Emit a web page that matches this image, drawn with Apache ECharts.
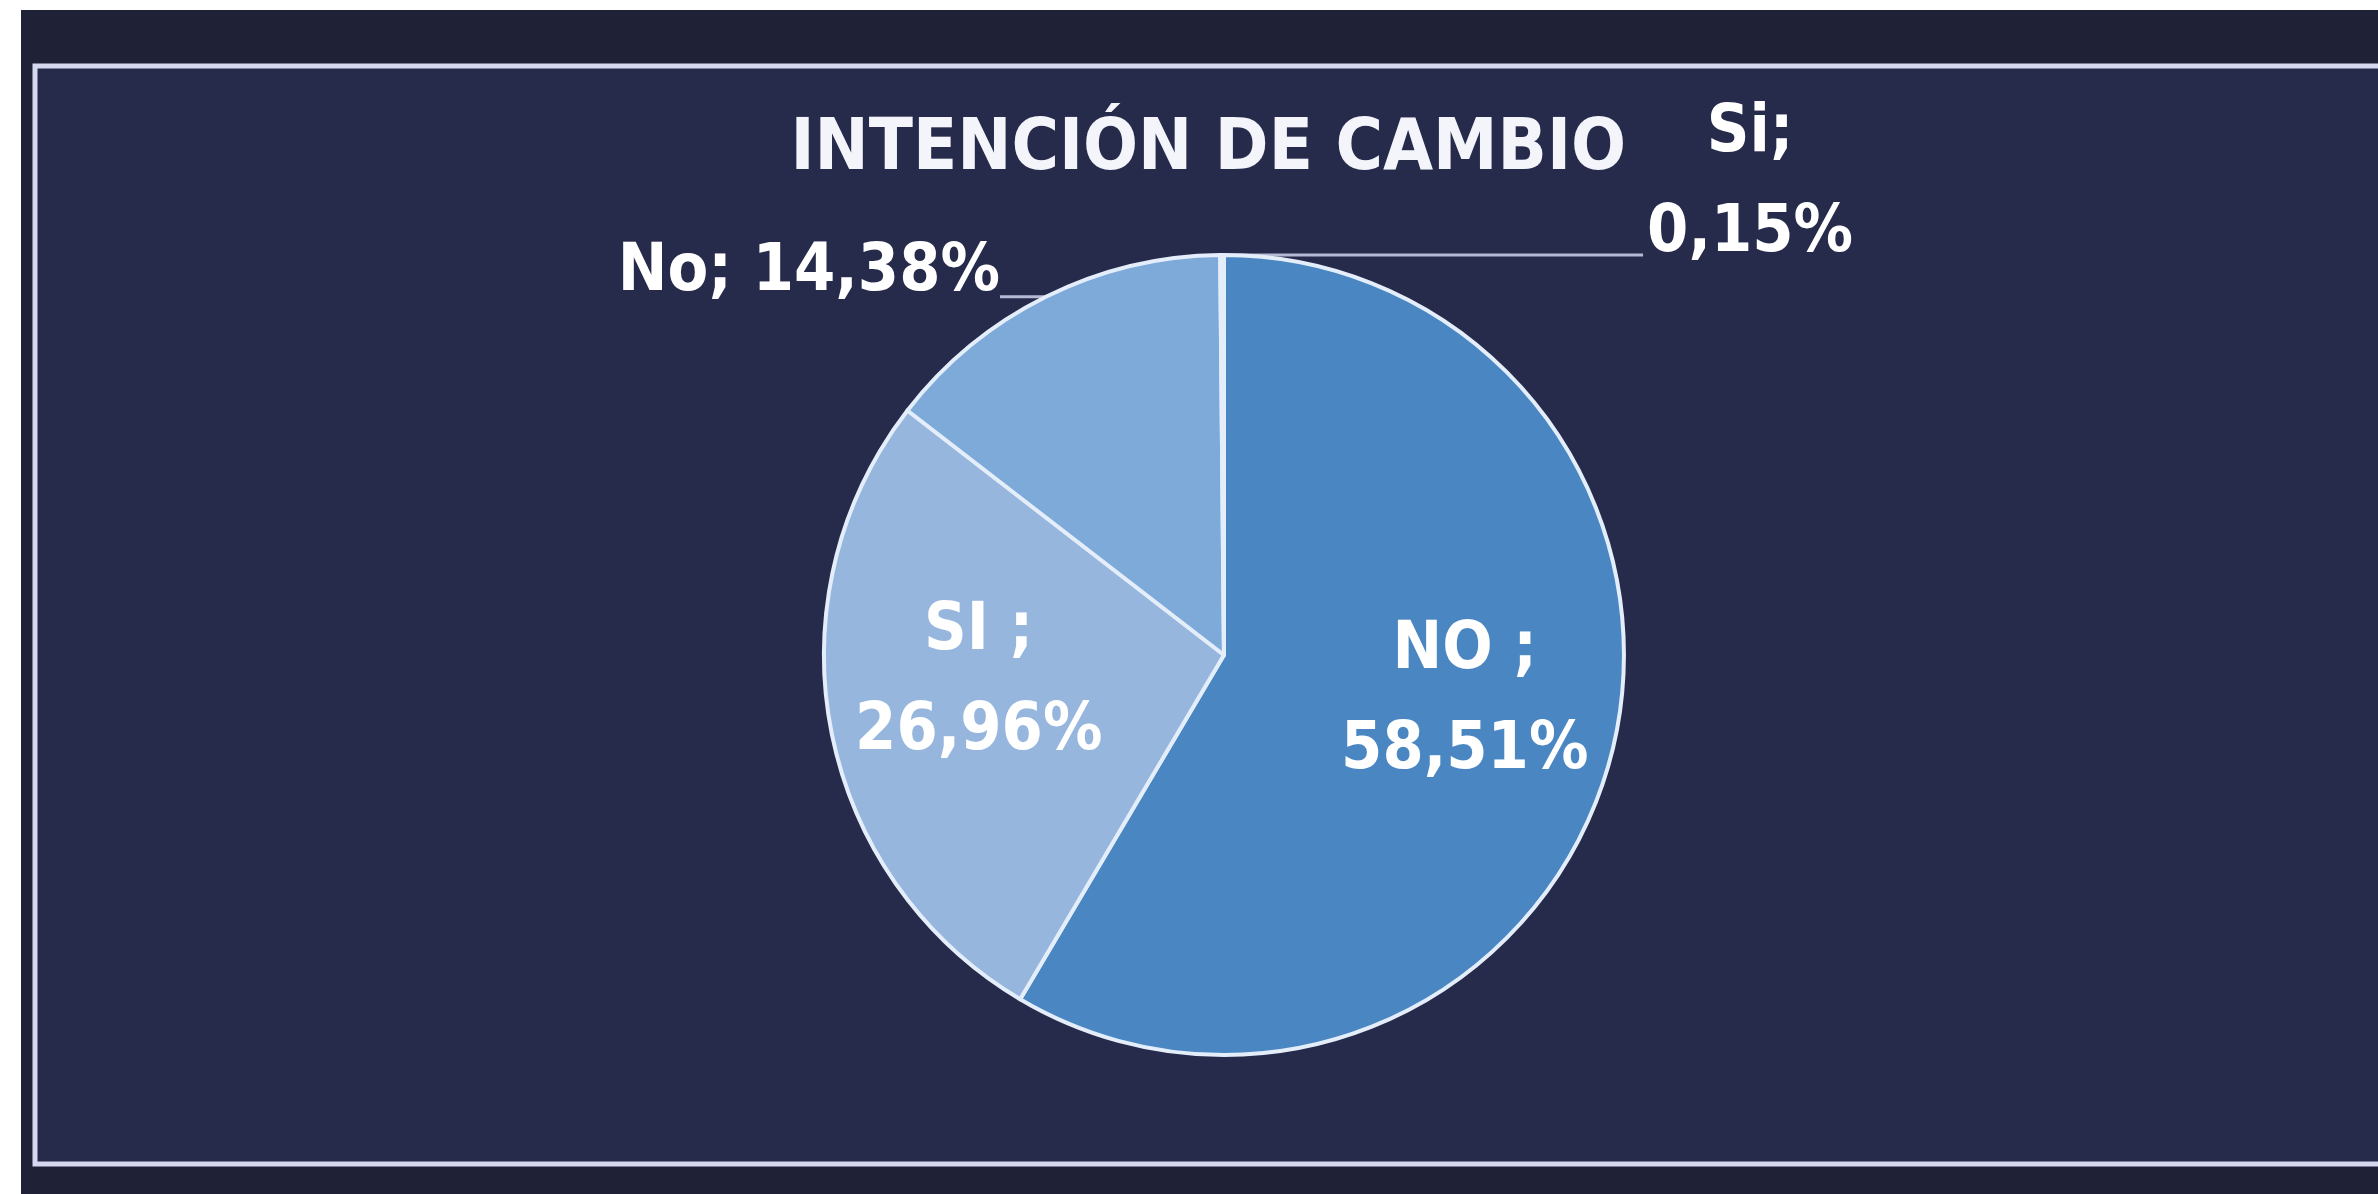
<!DOCTYPE html>
<html>
<head>
<meta charset="utf-8">
<title>Intención de cambio</title>
<script src="https://cdn.jsdelivr.net/npm/echarts@6/dist/echarts.min.js"></script>
<style>
  html, body { margin: 0; padding: 0; background: #ffffff; }
  #chart { width: 2378px; height: 1194px; }
</style>
</head>
<body>
<div id="chart"></div>
<script>
const categories = ['NO ', 'SI ', 'No', 'Si']
const values = [58.51, 26.96, 14.38, 0.15]
const sliceColors = ['#4a87c2', '#97b6de', '#7eaad9', '#5b93cf']
const titleText = 'INTENCIÓN DE CAMBIO'

const fontFamily = "'DejaVu Sans Condensed', 'Liberation Sans Narrow', 'DejaVu Sans', sans-serif"
const pieCenter = [51.47, 54.86] // percent of width / height
const pieRadius = 67 // percent of half the short side

function pct(v) {
  return v.toFixed(2).replace('.', ',') + '%'
}

const chart = echarts.init(document.getElementById('chart'))

const seriesData = categories.map((name, i) => {
  const inside = i < 2
  return {
    name: name,
    value: values[i],
    itemStyle: { color: sliceColors[i] },
    label: {
      position: inside ? 'inside' : 'outside',
      formatter: i === 2 ? name + '; ' + pct(values[i]) : name + ';\n' + pct(values[i])
    },
    labelLine: { show: !inside, length: 0, length2: 40 }
  }
})

chart.setOption({
  backgroundColor: '#ffffff',
  graphic: [
    {
      type: 'rect',
      z: -10,
      shape: { x: 21, y: 10, width: 2400, height: 1200 },
      style: { fill: '#1f2136' }
    },
    {
      type: 'rect',
      z: -9,
      shape: { x: 35, y: 66, width: 2400, height: 1098 },
      style: { fill: '#262a4b', stroke: '#d5d8ef', lineWidth: 5 }
    }
  ],
  title: {
    text: titleText,
    left: '50.6%',
    top: 109,
    textAlign: 'center',
    textStyle: {
      color: '#f4f5fb',
      fontFamily: fontFamily,
      fontWeight: 'bold',
      fontSize: 72
    }
  },
  series: [{
    type: 'pie',
    center: [pieCenter[0] + '%', pieCenter[1] + '%'],
    radius: pieRadius + '%',
    startAngle: 90,
    clockwise: true,
    avoidLabelOverlap: false,
    silent: true,
    itemStyle: {
      borderColor: '#e4eefa',
      borderWidth: 4
    },
    label: {
      color: '#ffffff',
      fontFamily: fontFamily,
      fontWeight: 'bold',
      fontSize: 66,
      lineHeight: 100,
      align: 'center'
    },
    labelLine: {
      lineStyle: { color: '#b6b9d4', width: 3 }
    },
    labelLayout: function(params) {
      const i = params.dataIndex
      if (i < 2) {
        // push inside labels further out than the default half radius
        const cx = chart.getWidth() * pieCenter[0] / 100
        const cy = chart.getHeight() * pieCenter[1] / 100
        const r = params.labelRect
        const lx = r.x + r.width / 2
        const ly = r.y + r.height / 2
        return { dx: (lx - cx) * 0.23, dy: (ly - cy) * 0.23 - 20 }
      }
      const p = params.labelLinePoints
      if (!p) return {}
      const p0 = p[0]
      if (i === 2) {
        return {
          x: p0[0] - 46,
          y: p0[1] - 24,
          align: 'right',
          verticalAlign: 'middle',
          labelLinePoints: [p0, p0, [p0[0] - 46, p0[1]]]
        }
      }
      return {
        x: p0[0] + 528,
        y: p0[1] - 71,
        align: 'center',
        verticalAlign: 'middle',
        labelLinePoints: [p0, p0, [p0[0] + 421, p0[1]]]
      }
    },
    data: seriesData
  }]
})
</script>
</body>
</html>
